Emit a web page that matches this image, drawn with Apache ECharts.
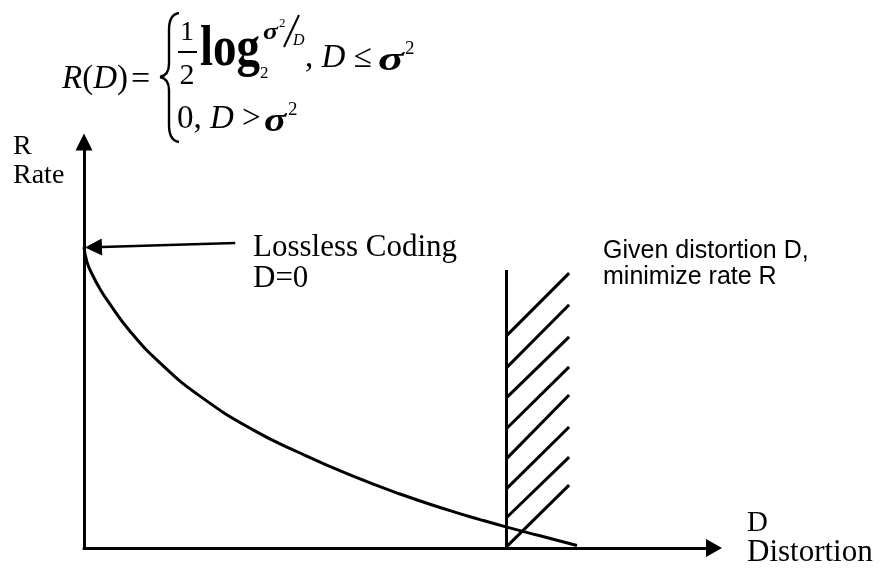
<!DOCTYPE html>
<html>
<head>
<meta charset="utf-8">
<script src="https://cdn.jsdelivr.net/npm/echarts@6/dist/echarts.min.js"></script>
<style>
html, body { margin: 0; padding: 0; background: #fff; }
#chart { width: 880px; height: 569px; }
</style>
</head>
<body>
<div id="chart"></div>
<script>
// Rate–distortion curve R(D), sampled as (distortion, rate)
const distortion = [0, 0.48, 1.43, 2.54, 3.65, 7.3, 12.06, 18.41, 26.83, 34.29, 42.22, 50.16, 58.1, 62.86, 66.98, 72.38, 78.25];
const rate = [74.1, 70.4, 67.0, 63.8, 61.1, 53.4, 45.6, 37.4, 29.1, 23.4, 18.0, 13.3, 9.2, 7.0, 5.2, 3.0, 0.6];

// Given-distortion boundary and its hatching
const boundaryD = 67.0;
const boundaryTop = 68.5;
const hatchRightD = 77.0;
const hatchLow = [52.2, 44.3, 36.9, 29.3, 21.9, 14.5, 7.4, 0.2];
const hatchHigh = [67.7, 59.9, 52.0, 44.6, 37.7, 29.8, 22.4, 15.5];

// Pointer to the lossless point (D = 0)
const pointerFrom = [24.0, 75.1];
const pointerTo = [1.5, 74.1];

const SERIF = '"Liberation Serif", "Times New Roman", serif';
const SANS = '"Liberation Sans", Arial, sans-serif';

function txt(x, y, text, font, extra) {
  const el = {
    type: 'text', x: x, y: y, silent: true,
    style: {
      text: text, font: font, fill: '#000',
      align: 'left', verticalAlign: 'middle',
      textAlign: 'left', textVerticalAlign: 'middle'
    }
  };
  if (extra) {
    if (extra.style) Object.assign(el.style, extra.style);
    ['scaleX', 'scaleY'].forEach(function (k) { if (extra[k] != null) el[k] = extra[k]; });
  }
  return el;
}
function bez(p0, c1, c2, p1) {
  return {
    type: 'bezierCurve', silent: true,
    shape: { x1: p0[0], y1: p0[1], cpx1: c1[0], cpy1: c1[1], cpx2: c2[0], cpy2: c2[1], x2: p1[0], y2: p1[1] },
    style: { stroke: '#000', lineWidth: 2.4, fill: null }
  };
}
function seg(p0, p1, w) {
  return {
    type: 'line', silent: true,
    shape: { x1: p0[0], y1: p0[1], x2: p1[0], y2: p1[1] },
    style: { stroke: '#000', lineWidth: w || 2.4 }
  };
}

const richSerif = {
  u: { font: '33px ' + SERIF, fill: '#000' },
  i: { font: 'italic 33px ' + SERIF, fill: '#000' }
};

const graphics = [
  // formula: R(D) = { ... }
  txt(62, 79, '{i|R}{u|(}{i|D}{u|)}', '33px ' + SERIF, { style: { rich: richSerif } }),
  txt(131, 80, '=', '34px ' + SERIF),
  // brace
  bez([179, 13], [172, 14], [169, 20], [169, 30]),
  seg([169, 30], [169, 64]),
  bez([169, 64], [169, 72], [165, 76], [160, 77]),
  bez([160, 77], [165, 78], [169, 82], [169, 90]),
  seg([169, 90], [169, 125]),
  bez([169, 125], [169, 135], [172, 141], [179, 142]),
  // one half
  txt(187, 33, '1', '28px ' + SERIF, { style: { align: 'center', textAlign: 'center' } }),
  seg([178, 52], [197, 52], 2),
  txt(187, 76, '2', '30px ' + SERIF, { style: { align: 'center', textAlign: 'center' } }),
  txt(200, 50, 'log', 'bold 47px ' + SERIF, { scaleY: 1.2 }),
  txt(260, 74, '2', '17px ' + SERIF),
  txt(263, 33, 'σ', 'bold italic 23px ' + SERIF, { scaleX: 1.2 }),
  txt(279, 24, '2', '13px ' + SERIF),
  seg([284, 47], [299, 15], 2),
  txt(293, 41, 'D', 'italic 16px ' + SERIF),
  // first case condition
  txt(305, 58, '{u|, }{i|D}{u| ≤}', '33px ' + SERIF, { style: { rich: richSerif } }),
  txt(378, 61, 'σ', 'bold italic 33px ' + SERIF, { scaleX: 1.45 }),
  txt(405, 49, '2', '19px ' + SERIF),
  // second case
  txt(177, 119, '{u|0, }{i|D}{u| >}', '33px ' + SERIF, { style: { rich: richSerif } }),
  txt(264, 122, 'σ', 'bold italic 33px ' + SERIF, { scaleX: 1.25 }),
  txt(288, 110, '2', '19px ' + SERIF),

  // axis titles
  txt(13, 147, 'R', '28px ' + SERIF),
  txt(13, 176, 'Rate', '28px ' + SERIF),
  txt(747, 523, 'D', '29px ' + SERIF),
  txt(747, 553, 'Distortion', '31px ' + SERIF),

  // annotations
  txt(253, 248, 'Lossless Coding', '31px ' + SERIF),
  txt(253, 279, 'D=0', '31px ' + SERIF),
  txt(603, 251, 'Given distortion D,', '25px ' + SANS),
  txt(603, 277, 'minimize rate R', '25px ' + SANS)
];

const axisCommon = {
  type: 'value', min: 0, max: 100,
  axisTick: { show: false }, axisLabel: { show: false }, splitLine: { show: false },
  axisLine: { show: true, onZero: false, lineStyle: { color: '#000', width: 3 } }
};

const chart = echarts.init(document.getElementById('chart'), null, { renderer: 'canvas' });
chart.setOption({
  animation: false,
  backgroundColor: '#fff',
  grid: { left: 84, right: 166, top: 142, bottom: 21 },
  xAxis: Object.assign({}, axisCommon, {
    axisLine: Object.assign({}, axisCommon.axisLine, { symbol: ['none', 'triangle'], symbolSize: [18, 16] })
  }),
  yAxis: Object.assign({}, axisCommon, {
    axisLine: Object.assign({}, axisCommon.axisLine, { symbol: ['none', 'triangle'], symbolSize: [17, 17] })
  }),
  series: [
    {
      type: 'line',
      data: distortion.map(function (d, i) { return [d, rate[i]]; }),
      smooth: 0.5,
      showSymbol: false,
      silent: true,
      lineStyle: { color: '#000', width: 3 }
    },
    {
      type: 'lines',
      coordinateSystem: 'cartesian2d',
      silent: true,
      lineStyle: { color: '#000', width: 3, opacity: 1 },
      data: [{ coords: [[boundaryD, 0], [boundaryD, boundaryTop]] }].concat(
        hatchLow.map(function (lo, i) {
          return { coords: [[boundaryD, lo], [hatchRightD, hatchHigh[i]]] };
        })
      )
    },
    {
      type: 'lines',
      coordinateSystem: 'cartesian2d',
      silent: true,
      symbol: ['none', 'triangle'],
      symbolSize: 17,
      lineStyle: { color: '#000', width: 2.5, opacity: 1 },
      itemStyle: { color: '#000' },
      data: [{ coords: [pointerFrom, pointerTo] }]
    }
  ],
  graphic: { elements: graphics }
});
</script>
</body>
</html>
